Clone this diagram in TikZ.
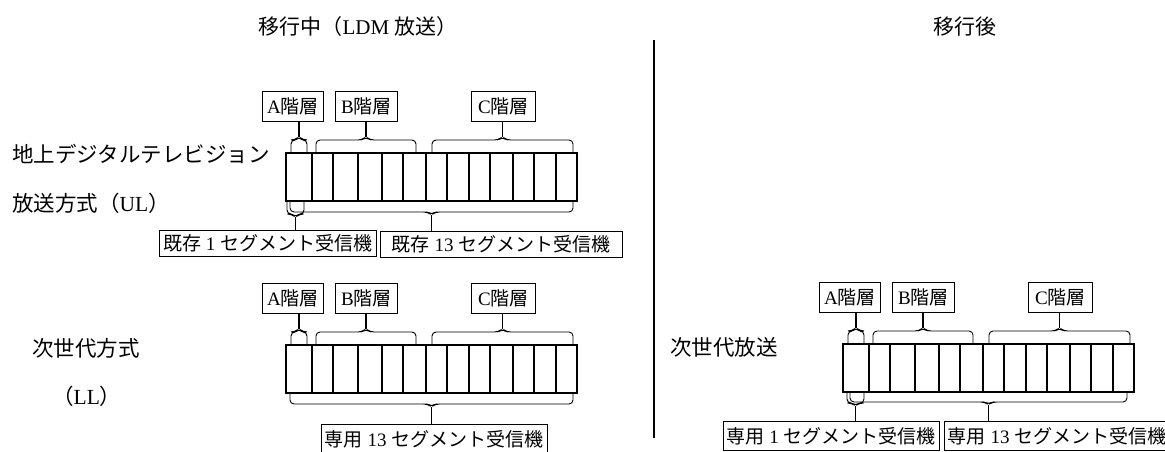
\documentclass[tikz,border=0pt]{standalone}
\usepackage{fontspec}
\setmainfont{Liberation Serif}
\newfontfamily\jp{Noto Sans CJK JP}
\usepackage{tikz}
\usetikzlibrary{positioning}
\tikzstyle{layer} = [rectangle, draw=black, line width=2.6pt, inner sep=0pt, outer sep=0pt, minimum height=48pt]
\tikzstyle{thinline} = [line width=1.1pt]
\tikzstyle{tagbox} = [rectangle, draw=black, line width=0.9pt, minimum height=30pt, inner sep=3pt, font=\fontsize{19}{22}\selectfont]
\tikzstyle{rxbox} = [tagbox, minimum height=26pt]
\tikzstyle{sidetext} = [inner sep=0pt, font=\fontsize{21.5}{24}\selectfont]
\tikzstyle{headtext} = [inner sep=0pt, font=\fontsize{21}{24}\selectfont]
\tikzstyle{bracestyle} = [line width=0.9pt, rounded corners=4pt]
\tikzstyle{link} = [line width=1.5pt]
\tikzstyle{sepline} = [line width=2pt]
\tikzset{pics/segbrace/.style 2 args={code={
  \draw[bracestyle] (0,0) -- (0,#2) -- ({#1/2-4},#2) -- ({#1/2},{1.25*#2}) coordinate (-tip)
    -- ({#1/2+4},#2) -- (#1,#2) -- (#1,0);}}}

\begin{document}
\begin{tikzpicture}[x=1pt, y=-1pt]
\useasboundingbox (0,0) rectangle (1165,452);
\clip (0,0) rectangle (1165,452);

% titles and separator
\node[headtext] (mid-title) at (358,27) {{\jp 移行中（}LDM\ {\jp 放送）}};
\node[headtext] (post-title) at (965,27) {\jp 移行後};
\coordinate (sep-top) at (654,40);
\coordinate (sep-bot) at (654,438);
\draw[sepline] (sep-top) -- (sep-bot);

% side names
\node[sidetext, anchor=west] (ul-name1) at (12,154) {\jp 地上デジタルテレビジョン};
\node[sidetext, anchor=west] (ul-name2) at (12,203) {{\jp 放送方式（}UL{\jp ）}};
\node[sidetext, anchor=west] (ll-name1) at (32,348) {\jp 次世代方式};
\node[sidetext, anchor=west] (ll-name2) at (52,396) {{\jp （}LL{\jp ）}};
\node[sidetext, anchor=west] (nx-name) at (670,347) {\jp 次世代放送};

% segment strips with layer tags
\foreach \s/\x/\y in {ul/286/153, ll/286/345, nx/843/344} {
  \node[layer, minimum width=26pt, anchor=north west] (\s-a) at (\x,\y) {};
  \node[layer, minimum width=114pt, right=0pt of \s-a] (\s-b) {};
  \node[layer, minimum width=151pt, right=0pt of \s-b] (\s-c) {};
  \foreach \d in {21,46,70,91}
    \draw[thinline] ([xshift=\d pt]\s-b.north west) -- ([xshift=\d pt]\s-b.south west);
  \foreach \d in {21,43,64,87,108,130}
    \draw[thinline] ([xshift=\d pt]\s-c.north west) -- ([xshift=\d pt]\s-c.south west);
  \node[tagbox, minimum width=61pt, anchor=south west] (\s-ta) at ([xshift=-24pt, yshift=31pt]\s-a.north west) {A{\jp 階層}};
  \node[tagbox, minimum width=62pt, anchor=south west] (\s-tb) at ([xshift=23pt, yshift=31pt]\s-b.north west) {B{\jp 階層}};
  \node[tagbox, minimum width=64pt, anchor=south west] (\s-tc) at ([xshift=45pt, yshift=31pt]\s-c.north west) {C{\jp 階層}};
  \pic (\s-ka) at ([xshift=5pt]\s-a.north west) {segbrace={16}{-13}};
  \pic (\s-kb) at ([xshift=4pt]\s-b.north west) {segbrace={100}{-13}};
  \pic (\s-kc) at ([xshift=6pt]\s-c.north west) {segbrace={141}{-13}};
  \draw[link] (\s-ka-tip) -- (\s-ka-tip |- \s-ta.south);
  \draw[link] (\s-kb-tip) -- (\s-kb-tip |- \s-tb.south);
  \draw[link] (\s-kc-tip) -- (\s-kc-tip |- \s-tc.south);
}

% receivers
\pic (ul-k1) at ([xshift=1pt]ul-a.south west) {segbrace={17}{13}};
\pic (ul-k13) at ([xshift=4pt]ul-a.south west) {segbrace={283}{11}};
\node[rxbox, minimum width=217pt, anchor=north] (ul-r1) at (267.5,230) {{\jp 既存}\ 1\ {\jp セグメント受信機}};
\node[rxbox, minimum width=242pt, anchor=north] (ul-r13) at (501,231) {{\jp 既存}\ 13\ {\jp セグメント受信機}};
\draw[link] (ul-k1-tip) -- (ul-k1-tip |- ul-r1.north);
\draw[link] (ul-k13-tip) -- (ul-k13-tip |- ul-r13.north);

\pic (ll-k13) at ([xshift=4pt]ll-a.south west) {segbrace={283}{11}};
\node[rxbox, minimum width=226pt, minimum height=30pt, anchor=north] (ll-r13) at (434,424) {{\jp 専用}\ 13\ {\jp セグメント受信機}};
\draw[link] (ll-k13-tip) -- (ll-k13-tip |- ll-r13.north);

\pic (nx-k1) at ([xshift=4pt]nx-a.south west) {segbrace={17}{11}};
\pic (nx-k13) at ([xshift=7pt]nx-a.south west) {segbrace={277}{10}};
\node[rxbox, minimum width=216pt, minimum height=29pt, anchor=north] (nx-r1) at (831,421) {{\jp 専用}\ 1\ {\jp セグメント受信機}};
\node[rxbox, minimum width=222pt, minimum height=29pt, anchor=north] (nx-r13) at (1057,421) {{\jp 専用}\ 13\ {\jp セグメント受信機}};
\draw[link] (nx-k1-tip) -- (nx-k1-tip |- nx-r1.north);
\draw[link] (nx-k13-tip) -- (nx-k13-tip |- nx-r13.north);
\end{tikzpicture}
\end{document}
